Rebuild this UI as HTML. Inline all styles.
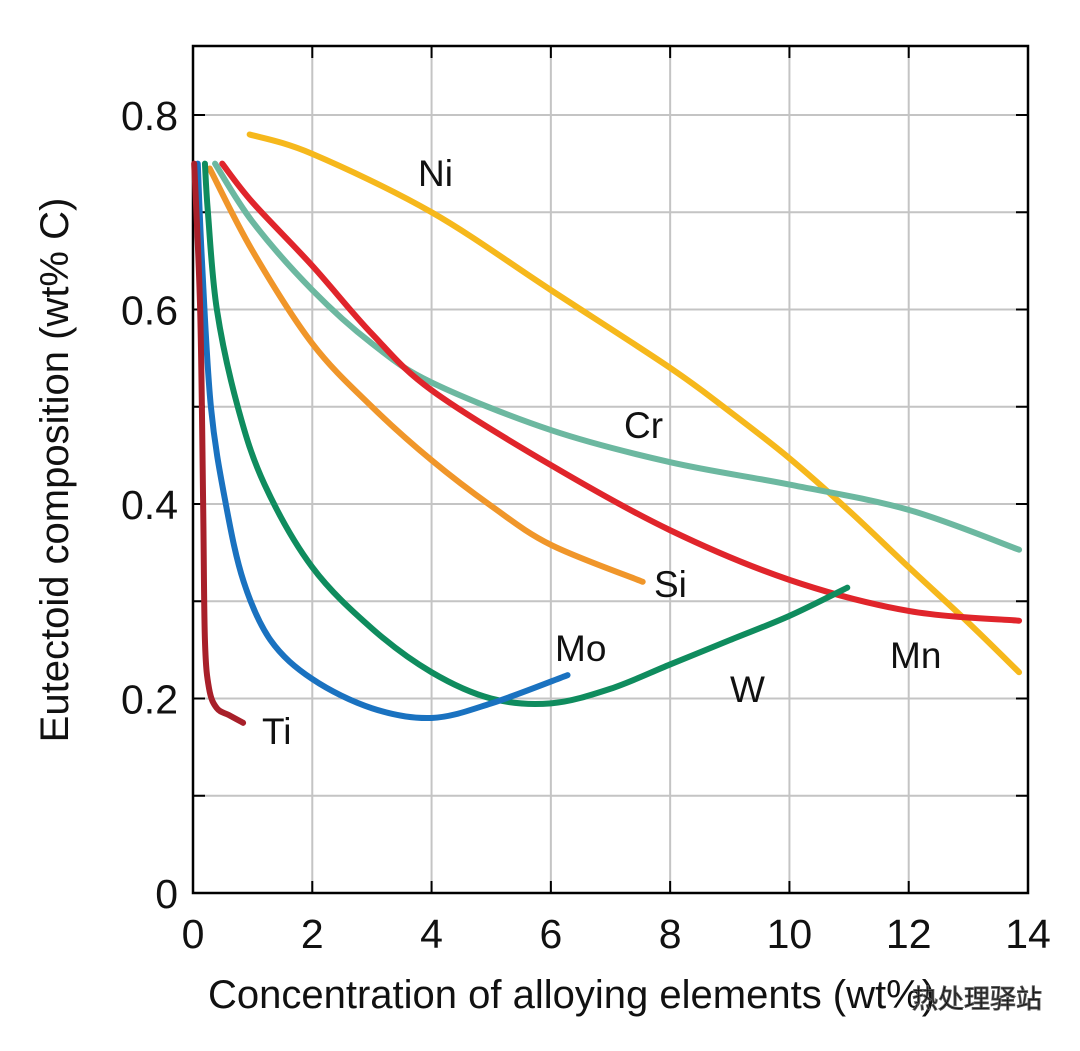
<!DOCTYPE html>
<html><head><meta charset="utf-8"><style>
body{margin:0;background:#fff;}
svg text{font-family:"Liberation Sans","Noto Sans CJK SC",sans-serif;fill:#111;}
</style></head><body>
<svg id="chart" width="1080" height="1046"></svg>
<script>
const xTicks=[0,2,4,6,8,10,12,14];
const yTicks=[0,0.2,0.4,0.6,0.8];
const niX=[0.95,2,4,6,8,9,10,11,12,13,13.85], niY=[0.78,0.76,0.70,0.62,0.54,0.495,0.447,0.393,0.335,0.278,0.227];
const mnX=[0.49,1,2,3,4,6,8,10,12,13.85], mnY=[0.75,0.71,0.645,0.575,0.517,0.44,0.373,0.322,0.29,0.28];
const crX=[0.37,1,2,3,4,6,8,10,12,13.85], crY=[0.75,0.69,0.62,0.565,0.525,0.476,0.443,0.42,0.394,0.353];
const siX=[0.28,1,2,3,4,5,6,7.54], siY=[0.745,0.66,0.565,0.5,0.445,0.398,0.358,0.32];
const wX=[0.2,0.25,0.4,0.75,1.2,2,3,4,5,6,7,8,9,10,10.97], wY=[0.75,0.7,0.6,0.5,0.42,0.335,0.272,0.227,0.2,0.195,0.21,0.235,0.26,0.285,0.314];
const moX=[0.08,0.15,0.3,0.55,0.85,1.3,2,3,4,5,6.28], moY=[0.75,0.65,0.5,0.4,0.32,0.26,0.22,0.19,0.18,0.195,0.224];
const tiX=[0.02,0.12,0.17,0.2,0.27,0.4,0.6,0.84], tiY=[0.75,0.6,0.4,0.26,0.21,0.19,0.183,0.175];
const svg=document.getElementById('chart');
const NS='http://www.w3.org/2000/svg';
const X0=193,X1=1028,Y0=893,Y1=46;
const sx=v=>X0+v*(X1-X0)/14;
const sy=v=>Y0-v*(893-115)/0.8;
function mk(t,a){const e=document.createElementNS(NS,t);for(const k in a)e.setAttribute(k,a[k]);svg.appendChild(e);return e;}
for(let i=2;i<14;i+=2){const g=mk('line',{x1:sx(i),x2:sx(i),y1:Y1,y2:Y0,stroke:'#c4c4c4','stroke-width':2});


mk('line',{x1:sx(i),x2:sx(i),y1:Y0-12,y2:Y0,stroke:'#000','stroke-width':2});mk('line',{x1:sx(i),x2:sx(i),y1:Y1,y2:Y1+12,stroke:'#000','stroke-width':2});}
for(let k=1;k<=8;k++){const v=k*0.1;const g=mk('line',{x1:X0,x2:X1,y1:sy(v),y2:sy(v),stroke:'#c4c4c4','stroke-width':2});


mk('line',{x1:X0,x2:X0+12,y1:sy(v),y2:sy(v),stroke:'#000','stroke-width':2});mk('line',{x1:X1-12,x2:X1,y1:sy(v),y2:sy(v),stroke:'#000','stroke-width':2});}
const fr=mk('rect',{x:X0,y:Y1,width:X1-X0,height:Y0-Y1,fill:'none',stroke:'#000','stroke-width':2.5});


xTicks.forEach(v=>{const t=mk('text',{x:sx(v),y:948,'font-size':41,'text-anchor':'middle'});t.textContent=v;

});
yTicks.forEach(v=>{const t=mk('text',{x:178,y:sy(v)+15,'font-size':41,'text-anchor':'end'});t.textContent=v===0?'0':v.toFixed(1);

});
function path(xs,ys){const p=xs.map((x,i)=>[sx(x),sy(ys[i])]);let d='M'+p[0];for(let i=0;i<p.length-1;i++){const a=p[i-1]||p[i],b=p[i],c=p[i+1],e=p[i+2]||c;
d+=` C${b[0]+(c[0]-a[0])/6},${b[1]+(c[1]-a[1])/6} ${c[0]-(e[0]-b[0])/6},${c[1]-(e[1]-b[1])/6} ${c[0]},${c[1]}`;}return d;}
const series=[['ni',niX,niY,'#f6b81c'],['cr',crX,crY,'#6cb8a0'],['mn',mnX,mnY,'#e0252b'],['si',siX,siY,'#f0962a'],['w',wX,wY,'#0f8c5e'],['mo',moX,moY,'#1a72c0'],['ti',tiX,tiY,'#a8202a']];
series.forEach(s=>{const e=mk('path',{d:path(s[1],s[2]),fill:'none',stroke:s[3],'stroke-width':6,'stroke-linecap':'round','stroke-linejoin':'round'});

});
[['Ni',418,186],['Cr',624,438],['Si',654,597],['Mo',555,661],['W',730,702],['Mn',890,668],['Ti',262,744]].forEach(l=>{const t=mk('text',{x:l[1],y:l[2],'font-size':37});t.textContent=l[0];

});
const xt=mk('text',{x:208,y:1008,'font-size':40});xt.textContent='Concentration of alloying elements (wt%)';


const yt=mk('text',{x:0,y:0,'font-size':40,'text-anchor':'middle',transform:'translate(68,470) rotate(-90)'});yt.textContent='Eutectoid composition (wt% C)';


const wm=mk('text',{x:912,y:1008,'font-size':26,fill:'#fff',stroke:'#555','stroke-width':1});wm.textContent='热处理驿站';


</script>
</body></html>
